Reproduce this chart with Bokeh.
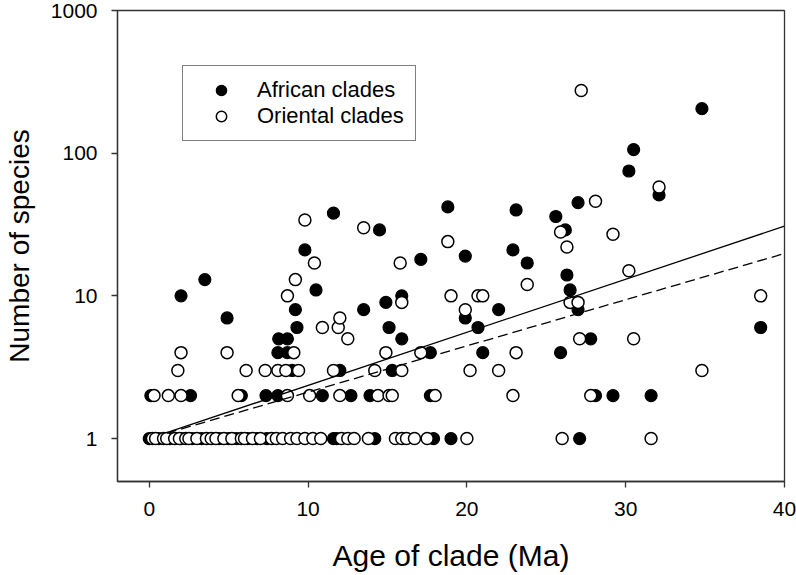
from bokeh.plotting import figure
from bokeh.models import FixedTicker, PrintfTickFormatter, Legend, LegendItem, Range1d
from bokeh.embed import file_html
from bokeh.resources import INLINE

# ---- data ----
african_age = [
    0.0, 0.6, 1.3, 2.0, 2.7, 3.3, 4.4, 5.0, 5.5, 6.2, 6.8, 7.4, 11.6, 11.8, 14.2, 17.9, 19.0, 27.1,
    0.1, 2.6, 5.8, 7.35, 8.1, 10.9, 12.7, 13.9, 17.7, 28.1, 29.2, 31.6,
    9.0, 12.0, 15.3,
    8.1, 8.7, 17.7, 21.0, 25.9,
    8.15, 8.7, 15.9, 27.8,
    9.3, 15.1, 20.7, 38.5,
    4.9, 19.9,
    9.2, 13.5, 22.0, 27.0,
    14.9,
    2.0, 15.9,
    10.5, 26.5,
    3.5, 26.3, 23.8, 17.1, 19.9,
    9.8, 22.9,
    14.5, 26.2,
    25.6, 11.6, 23.1, 18.8, 27.0, 32.1, 30.2, 30.5, 34.8,
]
african_species = [
    1, 1, 1, 1, 1, 1, 1, 1, 1, 1, 1, 1, 1, 1, 1, 1, 1, 1,
    2, 2, 2, 2, 2, 2, 2, 2, 2, 2, 2, 2,
    3, 3, 3,
    4, 4, 4, 4, 4,
    5, 5, 5, 5,
    6, 6, 6, 6,
    7, 7,
    8, 8, 8, 8,
    9,
    10, 10,
    11, 11,
    13, 14, 17, 18, 19,
    21, 21,
    29, 29,
    36, 38, 40, 42, 45, 51, 75, 106, 205,
]

oriental_age = [
    0.2, 0.4, 0.9, 1.1, 1.6, 1.9, 2.3, 2.5, 3.0, 3.6, 3.9, 4.2, 4.7, 5.2, 5.8, 6.0, 6.5, 7.0, 7.7,
    8.0, 8.4, 8.9, 9.3, 9.8, 10.3, 10.8, 12.1, 12.5, 12.9, 13.8, 15.5, 15.9, 16.2, 16.7, 17.5,
    20.0, 26.0, 31.6,
    0.3, 1.2, 2.0, 5.6, 8.7, 10.1, 12.0, 14.4, 15.1, 15.3, 18.0, 22.9, 27.8,
    1.8, 6.1, 7.3, 8.1, 8.6, 9.4, 11.6, 14.2, 15.9, 20.2, 22.0, 34.8,
    2.0, 4.9, 9.1, 14.9, 17.1, 23.1,
    12.5, 27.1, 30.5,
    10.9, 11.9,
    12.0,
    19.9,
    15.9, 26.5, 27.0,
    8.7, 19.0, 20.7, 21.0, 38.5,
    23.8, 9.2, 30.2,
    10.4, 15.8,
    26.3, 18.8, 29.2, 25.9, 13.5, 9.8, 28.1, 32.1, 27.2,
]
oriental_species = [
    1, 1, 1, 1, 1, 1, 1, 1, 1, 1, 1, 1, 1, 1, 1, 1, 1, 1, 1,
    1, 1, 1, 1, 1, 1, 1, 1, 1, 1, 1, 1, 1, 1, 1, 1,
    1, 1, 1,
    2, 2, 2, 2, 2, 2, 2, 2, 2, 2, 2, 2, 2,
    3, 3, 3, 3, 3, 3, 3, 3, 3, 3, 3, 3,
    4, 4, 4, 4, 4, 4,
    5, 5, 5,
    6, 6,
    7,
    8,
    9, 9, 9,
    10, 10, 10, 10, 10,
    12, 13, 15,
    17, 17,
    22, 24, 27, 28, 30, 34, 46, 58, 275,
]

fit_age = [1.1, 40.0]
african_fit = [1.10, 30.8]
oriental_fit = [1.09, 19.8]

x_ticks = [0, 10, 20, 30, 40]
y_ticks = [1, 10, 100, 1000]

FONT = "Liberation Sans"
INK = "#333333"

p = figure(width=796, height=575, y_axis_type="log",
           x_range=Range1d(-2, 40), y_range=Range1d(0.5, 1000),
           output_backend="svg", toolbar_location=None,
           min_border_left=111, min_border_right=12,
           min_border_top=10, min_border_bottom=94)

p.grid.visible = False
p.outline_line_color = INK
p.outline_line_width = 1.3
p.background_fill_color = "white"
p.border_fill_color = "white"

r_af = p.scatter(african_age, african_species, size=12, marker="circle",
                 fill_color="black", line_color="black", line_width=1.2)
r_or = p.scatter(oriental_age, oriental_species, size=12, marker="circle",
                 fill_color="white", line_color="black", line_width=1.5)

p.line(fit_age, african_fit, line_color="black", line_width=1.3)
p.line(fit_age, oriental_fit, line_color="black", line_width=1.3, line_dash="10 5")

for ax in (p.xaxis, p.yaxis):
    ax.axis_line_color = INK
    ax.axis_line_width = 1.3
    ax.major_tick_line_color = INK
    ax.major_tick_line_width = 1.3
    ax.major_tick_in = 0
    ax.major_tick_out = 6
    ax.minor_tick_line_color = None
    ax.major_label_text_font = FONT
    ax.major_label_text_font_size = "21px"
    ax.major_label_text_color = "black"
    ax.axis_label_text_font = FONT
    ax.axis_label_text_font_style = "normal"
    ax.axis_label_text_color = "black"

p.xaxis.axis_label_text_font_size = "30px"
p.yaxis.axis_label_text_font_size = "28px"
p.xaxis.ticker = FixedTicker(ticks=x_ticks)
p.yaxis.ticker = FixedTicker(ticks=y_ticks)
p.yaxis.formatter = PrintfTickFormatter(format="%d")
p.xaxis.axis_label = "Age of clade (Ma)"
p.yaxis.axis_label = "Number of species"
p.xaxis.major_label_standoff = 14
p.yaxis.major_label_standoff = 14
p.xaxis.axis_label_standoff = 20
p.yaxis.axis_label_standoff = 13

legend = Legend(items=[LegendItem(label="African clades", renderers=[r_af]),
                       LegendItem(label="Oriental clades", renderers=[r_or])],
                location=(65, 340), margin=0, padding=11, spacing=0,
                glyph_width=54, glyph_height=26, label_height=26,
                label_standoff=9, label_text_font=FONT,
                label_text_font_size="22px", label_text_color="black",
                border_line_color="black", border_line_width=1,
                background_fill_color="white", background_fill_alpha=1)
p.add_layout(legend)

open("out.html", "w").write(file_html(p, INLINE))
